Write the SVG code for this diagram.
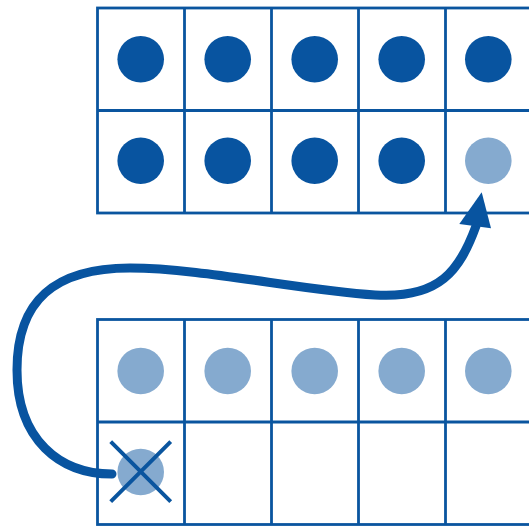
<svg xmlns="http://www.w3.org/2000/svg" width="529" height="526" viewBox="0 0 529 526">
<style>
.grid{fill:none;stroke:#0A559F;stroke-width:2.8}
.dark{fill:#0854A0}
.light{fill:#85AACF}
.cross{stroke:#0A559F;stroke-width:4;stroke-linecap:butt}
.conn{fill:none;stroke:#0854A0;stroke-width:9;stroke-linecap:round}
</style>
<rect width="529" height="526" fill="#fff"/>
<g id="frame-top">
<rect class="grid" x="97.5" y="8" width="435" height="205"/>
<path class="grid" d="M97.5 110.5H532.5M184.5 8V213M271.5 8V213M358.5 8V213M445.5 8V213"/>
<circle class="dark" cx="140.7" cy="59.3" r="23.3"/>
<circle class="dark" cx="227.7" cy="59.3" r="23.3"/>
<circle class="dark" cx="314.7" cy="59.3" r="23.3"/>
<circle class="dark" cx="401.7" cy="59.3" r="23.3"/>
<circle class="dark" cx="488.3" cy="59.3" r="23.3"/>
<circle class="dark" cx="140.7" cy="160.7" r="23.3"/>
<circle class="dark" cx="227.7" cy="160.7" r="23.3"/>
<circle class="dark" cx="314.7" cy="160.7" r="23.3"/>
<circle class="dark" cx="401.7" cy="160.7" r="23.3"/>
<circle class="light" cx="488.3" cy="160.7" r="23.3"/>
</g>
<g id="frame-bottom">
<rect class="grid" x="97.5" y="319.5" width="435" height="205"/>
<path class="grid" d="M97.5 422H532.5M184.5 319.5V524.5M271.5 319.5V524.5M358.5 319.5V524.5M445.5 319.5V524.5"/>
<circle class="light" cx="140.7" cy="371" r="23.3"/>
<circle class="light" cx="227.7" cy="371" r="23.3"/>
<circle class="light" cx="314.7" cy="371" r="23.3"/>
<circle class="light" cx="401.7" cy="371" r="23.3"/>
<circle class="light" cx="488.3" cy="371" r="23.3"/>
<circle class="light" cx="140.7" cy="472" r="23.3"/>
<path class="cross" d="M110.7 441.7L170.7 501.7M170.7 441.7L110.7 501.7"/>
</g>
<g id="connectors">
<path class="conn" d="M112 474C60 474 17 440 17 370C17 300 55 268 130 268C200 268 300 290 375 295C440 299 460 270 476 226"/>
<polygon class="dark" points="481.7,192.3 459.3,224 491,228.3"/>
</g>
</svg>
